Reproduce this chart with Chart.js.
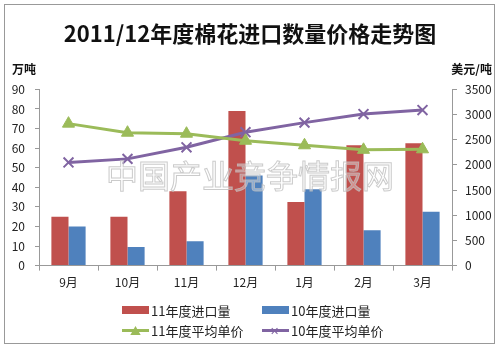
<!DOCTYPE html>
<html>
<head>
<meta charset="utf-8">
<script src="https://cdn.jsdelivr.net/npm/chart.js@4/dist/chart.umd.min.js"></script>
<style>
  body { margin: 0; background: #fff; }
  #wrap { position: relative; width: 500px; height: 351px; font-family: "Noto Sans CJK SC", sans-serif; }
  #legend { position: absolute; left: 122px; top: 300px; font-size: 13px; color: #222; }
  .row { display: flex; height: 20px; align-items: center; }
  .item { display: flex; align-items: center; width: 140px; }
  .sw { width: 27px; height: 8px; margin-right: 2px; position: relative; }
  .ln { width: 27px; height: 3px; margin-right: 2px; position: relative; }
  .mk { position: absolute; left: 8px; top: -6px; font-size: 11px; line-height: 14px; }
</style>
</head>
<body>
<div id="wrap">
  <canvas id="c" width="500" height="351"></canvas>
  <div id="legend">
    <div class="row">
      <div class="item"><span class="sw" style="background:#C0504D"></span>11年度进口量</div>
      <div class="item"><span class="sw" style="background:#4F81BD"></span>10年度进口量</div>
    </div>
    <div class="row">
      <div class="item"><span class="ln" style="background:#9BBB59"><span class="mk" style="color:#9BBB59">▲</span></span>11年度平均单价</div>
      <div class="item"><span class="ln" style="background:#8064A2"><span class="mk" style="color:#8064A2">✕</span></span>10年度平均单价</div>
    </div>
  </div>
</div>
<script>
const months = ["9月", "10月", "11月", "12月", "1月", "2月", "3月"];
const import11 = [25, 25, 38, 79, 32.5, 61.5, 62.5];
const import10 = [20, 9.5, 12.5, 46, 39, 18, 27.5];
const price11 = [2820, 2640, 2620, 2480, 2390, 2300, 2310];
const price10 = [2050, 2120, 2350, 2650, 2840, 3010, 3090];

const extras = {
  id: "extras",
  beforeDraw(chart) {
    const ctx = chart.ctx;
    ctx.save();
    ctx.strokeStyle = "#999";
    ctx.lineWidth = 1;
    ctx.strokeRect(4.5, 4.5, 490, 339);
    ctx.fillStyle = "#111";
    ctx.font = "bold 12px 'Noto Sans CJK SC'";
    ctx.textBaseline = "middle";
    ctx.textAlign = "left";
    ctx.fillText("万吨", 12, 69);
    ctx.textAlign = "right";
    ctx.fillText("美元/吨", 492, 69);
    ctx.restore();
  },
  afterDatasetsDraw(chart) {
    const ctx = chart.ctx;
    ctx.save();
    ctx.font = "32px 'Noto Sans CJK SC'";
    ctx.textAlign = "center";
    ctx.textBaseline = "middle";
    ctx.fillStyle = "rgba(255,255,255,0.35)";
    ctx.fillText("中国产业竞争情报网", 250, 176);
    ctx.strokeStyle = "rgba(190,190,190,0.8)";
    ctx.lineWidth = 1;
    ctx.strokeText("中国产业竞争情报网", 250, 176);
    ctx.restore();
  }
};

new Chart(document.getElementById("c"), {
  type: "bar",
  data: {
    labels: months,
    datasets: [
      { type: "line", label: "11年度平均单价", data: price11, yAxisID: "y2", order: 0,
        borderColor: "#9BBB59", backgroundColor: "#9BBB59", borderWidth: 3,
        pointStyle: "triangle", pointRadius: 7, pointBorderWidth: 1 },
      { type: "line", label: "10年度平均单价", data: price10, yAxisID: "y2", order: 0,
        borderColor: "#8064A2", backgroundColor: "#8064A2", borderWidth: 3,
        pointStyle: "crossRot", pointRadius: 7, pointBorderWidth: 2 },
      { label: "11年度进口量", data: import11, yAxisID: "y", order: 1,
        backgroundColor: "#C0504D", categoryPercentage: 0.58, barPercentage: 1 },
      { label: "10年度进口量", data: import10, yAxisID: "y", order: 1,
        backgroundColor: "#4F81BD", categoryPercentage: 0.58, barPercentage: 1 }
    ]
  },
  options: {
    responsive: false,
    animation: false,
    layout: { padding: { top: 0, left: 0, right: 0, bottom: 56 } },
    plugins: {
      legend: { display: false },
      tooltip: { enabled: false },
      title: {
        display: true,
        text: "2011/12年度棉花进口数量价格走势图",
        color: "#111",
        font: { family: "'Noto Sans CJK SC'", size: 22, weight: "600" },
        padding: { top: 20, bottom: 43 }
      }
    },
    scales: {
      x: {
        grid: { drawOnChartArea: false, tickLength: 5, color: "#999" },
        border: { color: "#999" },
        ticks: { color: "#222", padding: 5, font: { family: "'Noto Sans CJK SC'", size: 12 } }
      },
      y: {
        position: "left",
        min: 0, max: 90,
        afterFit(s) { s.width = 39; },
        grid: { drawOnChartArea: false, tickLength: 4, color: "#999" },
        border: { color: "#999" },
        ticks: { stepSize: 10, color: "#222", padding: 10, font: { family: "'Noto Sans CJK SC'", size: 12 } }
      },
      y2: {
        position: "right",
        min: 0, max: 3500,
        afterFit(s) { s.width = 48; },
        grid: { drawOnChartArea: false, tickLength: 5, color: "#999" },
        border: { color: "#999" },
        ticks: { stepSize: 500, color: "#222", padding: 8, callback: v => String(v),
          font: { family: "'Noto Sans CJK SC'", size: 12 } }
      }
    }
  },
  plugins: [extras]
});
</script>
</body>
</html>
